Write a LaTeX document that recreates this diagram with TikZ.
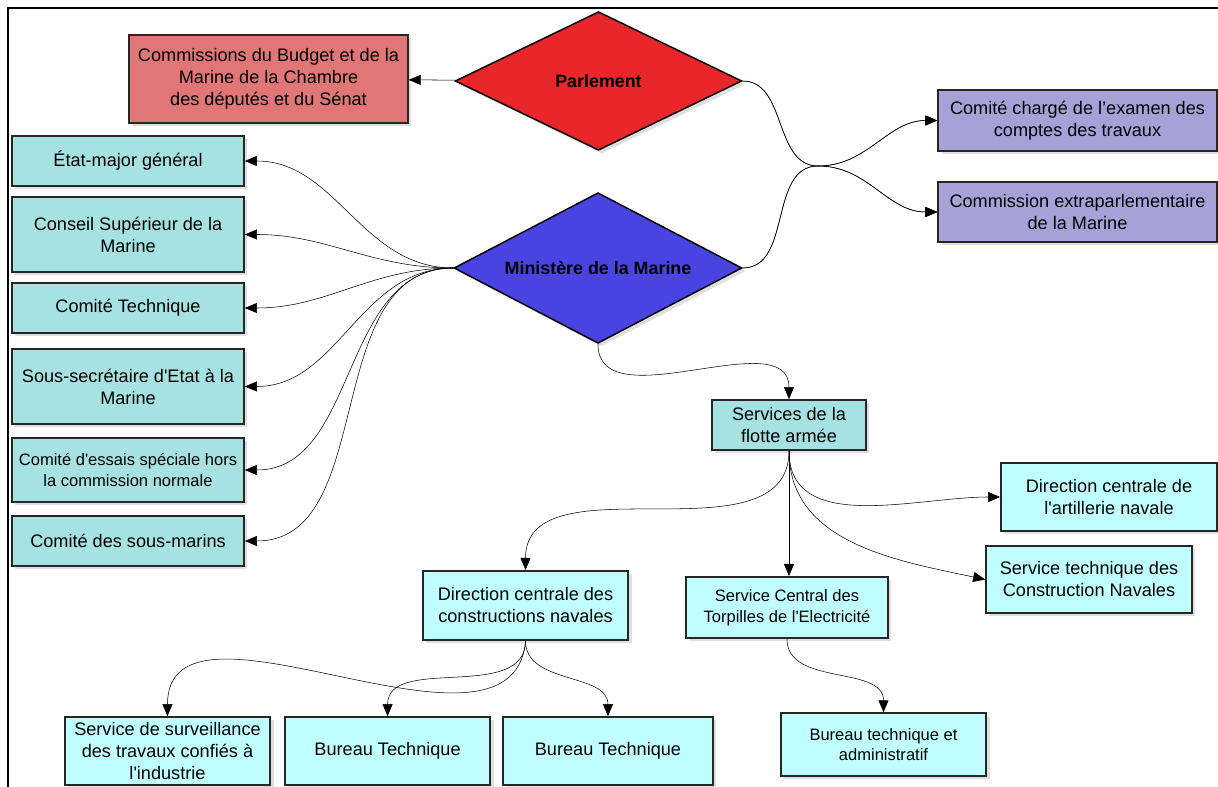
\documentclass[tikz,border=0pt]{standalone}
\usepackage{fontspec}
\setmainfont{Liberation Sans}
\usetikzlibrary{arrows.meta,shapes.geometric,shadows,positioning}
\definecolor{commred}{RGB}{224,118,118}
\definecolor{parlred}{RGB}{233,38,41}
\definecolor{minblue}{RGB}{73,67,226}
\definecolor{lilac}{RGB}{166,162,216}
\definecolor{teal}{RGB}{166,226,226}
\definecolor{pale}{RGB}{191,255,255}
\newcommand{\ap}{\textquotesingle}
\tikzset{
    box/.style={
        rectangle,
        draw=black!85,
        line width=1.3pt,
        align=center,
        inner sep=2pt,
        font=\fontsize{13.6}{16.5}\selectfont,
        drop shadow={shadow xshift=2.5pt,shadow yshift=-2.5pt,opacity=0.25},
    },
    small/.style={
        font=\fontsize{12.4}{15.5}\selectfont,
    },
    decide/.style={
        diamond,
        aspect=2,
        draw=black,
        line width=1.1pt,
        inner sep=0pt,
        font=\bfseries\fontsize{13.4}{16}\selectfont,
        drop shadow={shadow xshift=2.5pt,shadow yshift=-2.5pt,opacity=0.25},
    },
    col/.style={
        box,
        fill=teal,
        minimum width=174pt,
    },
}

\begin{document}
\begin{tikzpicture}[x=0.75pt,y=-0.75pt,>={Triangle[length=9pt,width=7.5pt]},thin]
    \useasboundingbox (0,0) rectangle (1218,787);
    \draw[line width=2pt] (1218,8) -- (8,8) -- (8,787);

    % top: parliament side
    \node [decide,fill=parlred,minimum width=215pt,minimum height=104pt] (parl) at (598.5,81) {Parlement};
    \node [box,fill=commred,minimum width=209pt,minimum height=66pt] (comm) at (268.5,79)
        {Commissions du Budget et de la\\Marine de la Chambre\\des députés et du Sénat};
    \node [decide,fill=minblue,minimum width=216pt,minimum height=113pt] (min) at (598,268) {Ministère de la Marine};

    \node [box,fill=lilac,minimum width=209pt,minimum height=46pt] (chg) at (1077.5,120.5)
        {Comité chargé de l’examen des\\comptes des travaux};
    \node [box,fill=lilac,minimum width=209pt,minimum height=45pt] (extra) at (1077.5,212)
        {Commission extraparlementaire\\de la Marine};
    \coordinate (hub) at (818,166);

    % left column
    \node [col,minimum height=37.5pt] (etat) at (128,161) {État-major général};
    \node [col,minimum height=56pt] (csm) at (128,234.5) {Conseil Supérieur de la\\Marine};
    \node [col,minimum height=37.5pt] (ctech) at (128,308) {Comité Technique};
    \node [col,minimum height=56pt] (ssec) at (128,386.5) {Sous-secrétaire d\ap Etat à la\\Marine};
    \node [col,small,minimum height=48pt] (essai) at (128,470) {Comité d\ap essais spéciale hors\\la commission normale};
    \node [col,minimum height=37.5pt] (sm) at (128,541) {Comité des sous-marins};

    % services
    \node [box,fill=teal,minimum width=115.5pt,minimum height=37.5pt] (flotte) at (789,425) {Services de la\\flotte armée};
    \node [box,fill=pale,minimum width=162pt,minimum height=51pt] (artil) at (1109,497)
        {Direction centrale de\\l\ap artillerie navale};
    \node [box,fill=pale,minimum width=154.5pt,minimum height=50pt] (stcn) at (1089,579.5)
        {Service technique des\\Construction Navales};
    \node [box,small,fill=pale,minimum width=151.5pt,minimum height=46pt] (torp) at (787,607.5)
        {Service Central des\\Torpilles de l\ap Electricité};
    \node [box,fill=pale,minimum width=154pt,minimum height=52pt] (dccn) at (525.5,605.5)
        {Direction centrale des\\constructions navales};

    % bottom row
    \node [box,fill=pale,minimum width=154pt,minimum height=51pt] (surv) at (167.5,751)
        {Service de surveillance\\des travaux confiés à\\l\ap industrie};
    \node [box,fill=pale,minimum width=154pt,minimum height=51pt] (bt1) [right=9.75pt of surv] {Bureau Technique};
    \node [box,fill=pale,minimum width=157.5pt,minimum height=51pt] (bt2) [right=8.25pt of bt1] {Bureau Technique};
    \node [box,small,fill=pale,minimum width=154pt,minimum height=47pt] (bta) at (883.5,744.5)
        {Bureau technique et\\administratif};

    \path[->] (parl) edge (comm);
    \draw[->] (parl.east) to[out=0,in=180] (hub) to[out=0,in=180] (chg.west);
    \draw[->] (parl.east) to[out=0,in=180] (hub) to[out=0,in=180] (extra.west);
    \draw[->] (min.east) to[out=0,in=180] (hub) to[out=0,in=180] (chg.west);
    \draw[->] (min.east) to[out=0,in=180] (hub) to[out=0,in=180] (extra.west);

    \path[->] (min.west) edge [out=180,in=0] (etat.east);
    \path[->] (min.west) edge [out=180,in=0] (csm.east);
    \path[->] (min.west) edge [out=180,in=0] (ctech.east);
    \path[->] (min.west) edge [out=180,in=0] (ssec.east);
    \path[->] (min.west) edge [out=180,in=0] (essai.east);
    \path[->] (min.west) edge [out=180,in=0] (sm.east);
    \path[->] (min.south) edge [out=-90,in=90] (flotte.north);

    \path[->] (flotte.south) edge [out=-90,in=90] (dccn.north);
    \path[->] (flotte.south) edge (flotte.south |- torp.north);
    \path[->] (flotte.south) edge [out=-90,in=180] (artil.west);
    \path[->] (flotte.south) edge [out=-90,in=168] (stcn.west);

    \path[->] (dccn.south) edge [out=-95,in=90] (surv.north);
    \path[->] (dccn.south) edge [out=-90,in=90] (bt1.north);
    \path[->] (dccn.south) edge [out=-90,in=90] (bt2.north);
    \path[->] (torp.south) edge [out=-90,in=90] (bta.north);
\end{tikzpicture}
\end{document}
